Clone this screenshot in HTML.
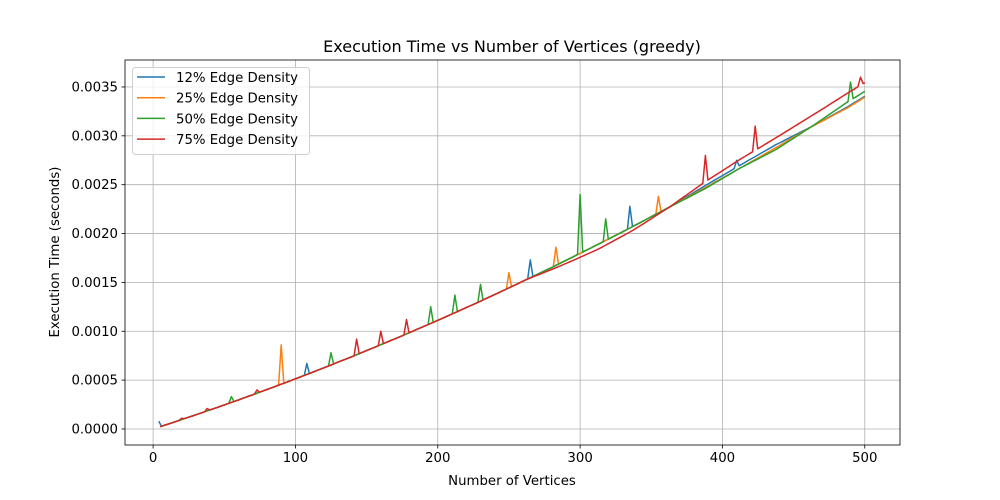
<!DOCTYPE html>
<html><head><meta charset="utf-8"><style>
body{margin:0;background:#fff;}
svg{display:block;font-family:"DejaVu Sans","Liberation Sans",sans-serif;}
</style></head><body>
<svg id="chart" width="1000" height="500">
<rect width="1000" height="500" fill="#fff"/>
<g id="grid"></g><g id="series"></g><g id="axes"></g>
<text x="512" y="52" text-anchor="middle" font-size="16">Execution Time vs Number of Vertices (greedy)</text>
<text x="512" y="485" text-anchor="middle" font-size="13.3">Number of Vertices</text>
<text transform="translate(59,252) rotate(-90)" text-anchor="middle" font-size="13.3">Execution Time (seconds)</text>
<g id="legend"></g>
</svg>
<script>
const xTicks=[0,100,200,300,400,500];
const yTicks=[0,0.0005,0.0010,0.0015,0.0020,0.0025,0.0030,0.0035];
const yTickLabels=["0.0000","0.0005","0.0010","0.0015","0.0020","0.0025","0.0030","0.0035"];
const seriesNames=["12% Edge Density","25% Edge Density","50% Edge Density","75% Edge Density"];
const colors=["#1f77b4","#ff7f0e","#2ca02c","#d62728"];
// base execution time (ms) at vertices 5,10,...,500
const baseMs=[.024,.047,.071,.096,.120,.145,.170,.195,.220,.246,.272,.297,.324,.350,.377,.404,.431,.458,.485,.513,
.541,.569,.597,.626,.655,.684,.713,.742,.772,.802,.832,.862,.893,.923,.954,.985,1.017,1.048,1.080,1.112,
1.144,1.177,1.209,1.242,1.275,1.308,1.342,1.376,1.410,1.444,1.478,1.513,1.548,1.583,1.618,1.653,1.689,1.725,1.761,1.797,
1.834,1.870,1.907,1.944,1.982,2.019,2.057,2.095,2.133,2.172,2.211,2.249,2.288,2.328,2.367,2.407,2.447,2.487,2.528,2.568,
2.609,2.650,2.691,2.733,2.774,2.816,2.858,2.900,2.943,2.986,3.029,3.072,3.115,3.158,3.203,3.247,3.291,3.335,3.380,3.425];
// per-series adjustment (ms) at block centres (every 25 vertices)
const adj12=[0,0,0,0,0,0,0,0,0,0,0,0,0,0,0,.02,.03,.03,0,-.02];
const adj25=[0,0,0,0,0,0,0,0,0,0,0,0,0,0,0,0,0,0,0,-.03];
const adj50=[0,0,0,0,0,0,0,0,0,0,0,0,0,0,0,-.01,0,-.02,0,.03];
const adj75=[0,0,0,0,0,0,0,0,0,0,0,-.03,-.05,-.04,0,.06,.09,.10,.11,.12];
// spikes [vertices, ms]
const spikes12=[[4,.08],[108,.67],[265,1.73],[335,2.28],[410,2.75]];
const spikes25=[[90,.86],[250,1.60],[283,1.86],[355,2.38]];
const spikes50=[[55,.33],[125,.78],[195,1.25],[212,1.37],[230,1.48],[300,2.40],[318,2.15],[490,3.55]];
const spikes75=[[20,.11],[38,.21],[73,.40],[143,.92],[160,1.00],[178,1.12],[388,2.80],[423,3.10],[497,3.60]];
const adjs=[adj12,adj25,adj50,adj75], spikes=[spikes12,spikes25,spikes50,spikes75];

const L=125,R=900,T=60,B=445, xmin=-19.75,xmax=524.75, ymin=-0.000164,ymax=0.003776;
const sx=v=>L+(v-xmin)/(xmax-xmin)*(R-L);
const sy=v=>B-(v-ymin)/(ymax-ymin)*(B-T);
const NS="http://www.w3.org/2000/svg";
function mk(tag,attrs,parent){const e=document.createElementNS(NS,tag);for(const k in attrs)e.setAttribute(k,attrs[k]);parent.appendChild(e);return e;}
function lerpArr(arr,pos){const i=Math.max(0,Math.min(arr.length-1,pos));const a=Math.floor(i),b=Math.min(arr.length-1,a+1);return arr[a]+(arr[b]-arr[a])*(i-a);}
function curve(s,x){return lerpArr(baseMs,x/5-1)+lerpArr(adjs[s],(x-12.5)/25);}
const grid=document.getElementById('grid'),axes=document.getElementById('axes'),ser=document.getElementById('series'),leg=document.getElementById('legend');
xTicks.forEach(t=>{const x=sx(t);
 const g=mk('line',{x1:x,x2:x,y1:T,y2:B,stroke:'#b0b0b0','stroke-width':0.8},grid);
 
 
 mk('line',{x1:x,x2:x,y1:B,y2:B+3.5,stroke:'#000','stroke-width':0.8},axes);
 const tx=mk('text',{x:x,y:B+17,'text-anchor':'middle','font-size':13.3},axes);tx.textContent=t;
 
 });
yTicks.forEach((t,i)=>{const y=sy(t);
 const g=mk('line',{x1:L,x2:R,y1:y,y2:y,stroke:'#b0b0b0','stroke-width':0.8},grid);
 
 
 mk('line',{x1:L-3.5,x2:L,y1:y,y2:y,stroke:'#000','stroke-width':0.8},axes);
 const tx=mk('text',{x:L-7,y:y+4.5,'text-anchor':'end','font-size':13.3},axes);tx.textContent=yTickLabels[i];
 
 });
const fr=mk('rect',{x:L,y:T,width:R-L,height:B-T,fill:'none',stroke:'#000','stroke-width':0.8},axes);


seriesNames.forEach((n,s)=>{
 const sp=spikes[s];
 let pts=[];
 for(let x=5;x<=500;x+=2.5){ if(!sp.some(p=>Math.abs(p[0]-x)<2.2)) pts.push([x,curve(s,x)]); }
 sp.forEach(p=>{pts.push(p);
   if(p[0]-1.8>=5)pts.push([p[0]-1.8,curve(s,p[0]-1.8)]);
   if(p[0]+1.8<=500)pts.push([p[0]+1.8,curve(s,p[0]+1.8)]);});
 pts.sort((a,b)=>a[0]-b[0]);
 const d=pts.map((p,i)=>(i?'L':'M')+sx(p[0]).toFixed(1)+','+sy(p[1]/1000).toFixed(1)).join('');
 const pe=mk('path',{d:d,fill:'none',stroke:colors[s],'stroke-width':1.5,'stroke-linejoin':'round'},ser);
 
 
});
const lb=mk('rect',{x:132.5,y:67.5,width:177,height:87,rx:3,fill:'#fff','fill-opacity':0.8,stroke:'#d0d0d0'},leg);


seriesNames.forEach((n,s)=>{const y=77+s*20.7;
 const ln=mk('line',{x1:137,x2:165,y1:y,y2:y,stroke:colors[s],'stroke-width':1.5},leg);
 
 
 const tx=mk('text',{x:176,y:y+5,'font-size':13.3},leg);tx.textContent=n;
 
 });
</script>
</body></html>
